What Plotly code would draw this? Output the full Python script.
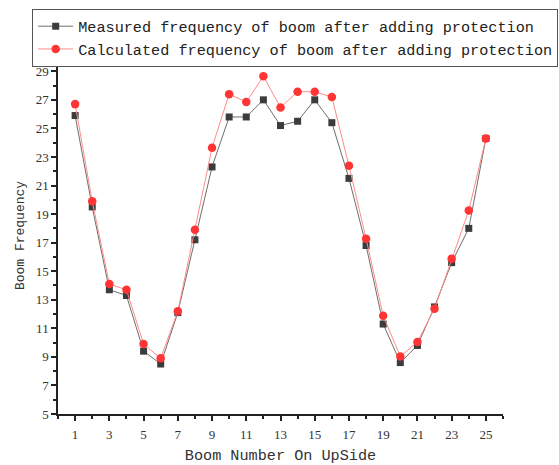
import plotly.graph_objects as go

boom = list(range(1, 26))
measured = [25.9, 19.5, 13.7, 13.3, 9.4, 8.5, 12.1, 17.2, 22.3, 25.8, 25.8, 27.0, 25.2,
            25.5, 27.0, 25.4, 21.5, 16.8, 11.3, 8.6, 9.8, 12.5, 15.6, 18.0, 24.3]
calculated = [26.7, 19.9, 14.1, 13.7, 9.9, 8.9, 12.2, 17.9, 23.65, 27.4, 26.85, 28.65, 26.47,
              27.57, 27.57, 27.2, 22.38, 17.28, 11.88, 9.02, 10.05, 12.37, 15.88, 19.25, 24.3]
names = ["Measured frequency of boom after adding protection",
         "Calculated frequency of boom after adding protection"]

mono = "Liberation Mono"
serif = "Liberation Serif"

fig = go.Figure()
fig.add_trace(go.Scatter(
    x=boom, y=measured, name=names[0], mode="lines+markers",
    line=dict(color="#6e6e6e", width=1),
    marker=dict(symbol="square", size=7, color="#3c3c3c", line=dict(width=0)),
))
fig.add_trace(go.Scatter(
    x=boom, y=calculated, name=names[1], mode="lines+markers",
    line=dict(color="#ff8a8a", width=1),
    marker=dict(symbol="circle", size=8.5, color="#ff3535", line=dict(width=0)),
))

fig.update_layout(
    width=559, height=465,
    margin=dict(l=58, r=56, t=57, b=51, autoexpand=False),
    paper_bgcolor="white", plot_bgcolor="white",
    showlegend=True,
    legend=dict(
        x=-0.058, y=1.135, xanchor="left", yanchor="top",
        bordercolor="#555555", borderwidth=1, bgcolor="white",
        font=dict(family=mono, size=15.2, color="#222222"),
        tracegroupgap=0, itemwidth=35,
    ),
    xaxis=dict(
        range=[0, 26], tick0=1, dtick=2, showgrid=False, zeroline=False,
        showline=True, linecolor="#222222", linewidth=1.5, automargin=False,
        ticks="outside", ticklen=5, tickcolor="#222222", tickwidth=1.5,
        minor=dict(dtick=1, ticklen=3, tickcolor="#222222", tickwidth=1.5, ticks="outside"),
        tickfont=dict(family=serif, size=13, color="#333333"), ticklabelstandoff=3,
        title=dict(text="Boom Number On UpSide", font=dict(family=mono, size=15.2, color="#333333"), standoff=15),
    ),
    yaxis=dict(
        range=[5, 30], tick0=5, dtick=2, showgrid=False, zeroline=False,
        showline=True, linecolor="#222222", linewidth=1.5, automargin=False,
        ticks="outside", ticklen=5, tickcolor="#222222", tickwidth=1.5,
        minor=dict(dtick=1, ticklen=3, tickcolor="#222222", tickwidth=1.5, ticks="outside"),
        tickfont=dict(family=serif, size=13, color="#333333"),
        title=dict(text="Boom Frequency", font=dict(family=mono, size=13, color="#333333"), standoff=8),
    ),
)

fig.write_html("out.html")
